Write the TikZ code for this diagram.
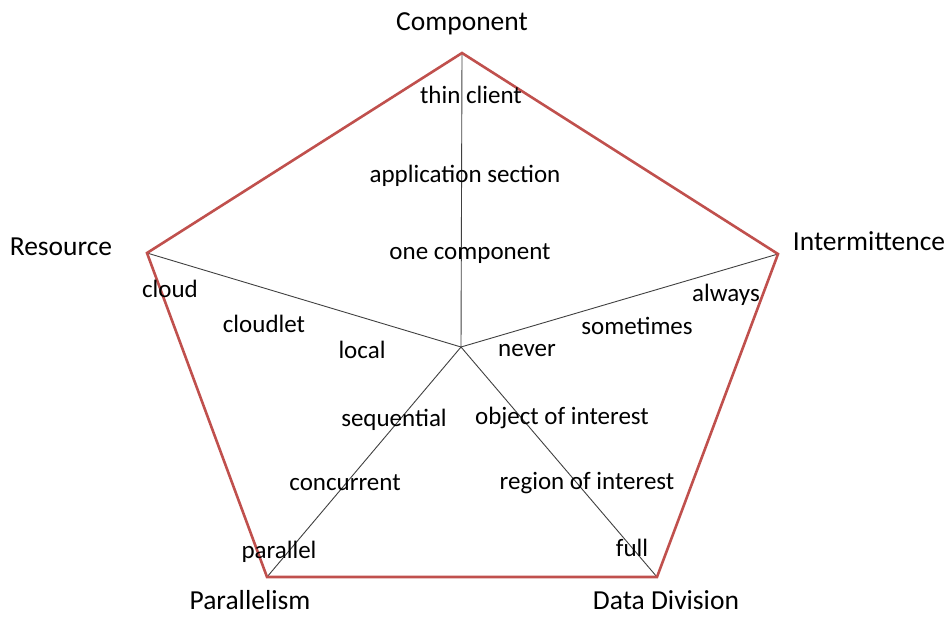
\documentclass[tikz,border=0pt]{standalone}
\usepackage{fontspec}
\setmainfont{Carlito}
\definecolor{edgered}{HTML}{C0504D}
\definecolor{axisgray}{HTML}{404040}
\begin{document}
\begin{tikzpicture}[x=1pt,y=-1pt,
  axis/.style={draw=axisgray,line width=0.9pt},
  rim/.style={draw=edgered,line width=2.6pt,line join=miter},
  title/.style={font=\fontsize{27.5}{31}\selectfont,inner sep=0pt,anchor=center},
  lab/.style={font=\fontsize{25}{29}\selectfont,inner sep=0pt,anchor=center}]
\useasboundingbox (0,0) rectangle (949,616);
% pentagon corners and centre
\coordinate (c) at (461,347);
\coordinate (vt) at (462,53);
\coordinate (vr) at (778,254);
\coordinate (vbr) at (657,577);
\coordinate (vbl) at (267,577);
\coordinate (vl) at (147,253);
% spokes
\foreach \v in {vt,vr,vbr,vbl,vl} \draw[axis] (c) -- (\v);
% outline
\draw[rim] (vt) -- (vr) -- (vbr) -- (vbl) -- (vl) -- cycle;
% axis titles
\node[title] (tComp) at (462,24) {Component};
\node[title] (tRes) at (61,247) {Resource};
\node[title] (tInt) at (869,241) {Intermittence};
\node[title] (tPar) at (250,600) {Parallelism};
\node[title] (tData) at (666,600) {Data Division};
% values along each axis
\node[lab] (l1) at (471,95) {thin client};
\node[lab] (l2) at (465,176) {application section};
\node[lab] (l3) at (470,254) {one component};
\node[lab] (l4) at (170,289) {cloud};
\node[lab] (l5) at (264,324) {cloudlet};
\node[lab] (l6) at (362,350) {local};
\node[lab] (l7) at (726,295) {always};
\node[lab] (l8) at (637,326) {sometimes};
\node[lab] (l9) at (527,351) {never};
\node[lab] (l10) at (562,418) {object of interest};
\node[lab] (l11) at (394,420) {sequential};
\node[lab] (l12) at (345,483) {concurrent};
\node[lab] (l13) at (587,483) {region of interest};
\node[lab] (l14) at (279,552) {parallel};
\node[lab] (l15) at (632,548) {full};
\end{tikzpicture}
\end{document}
